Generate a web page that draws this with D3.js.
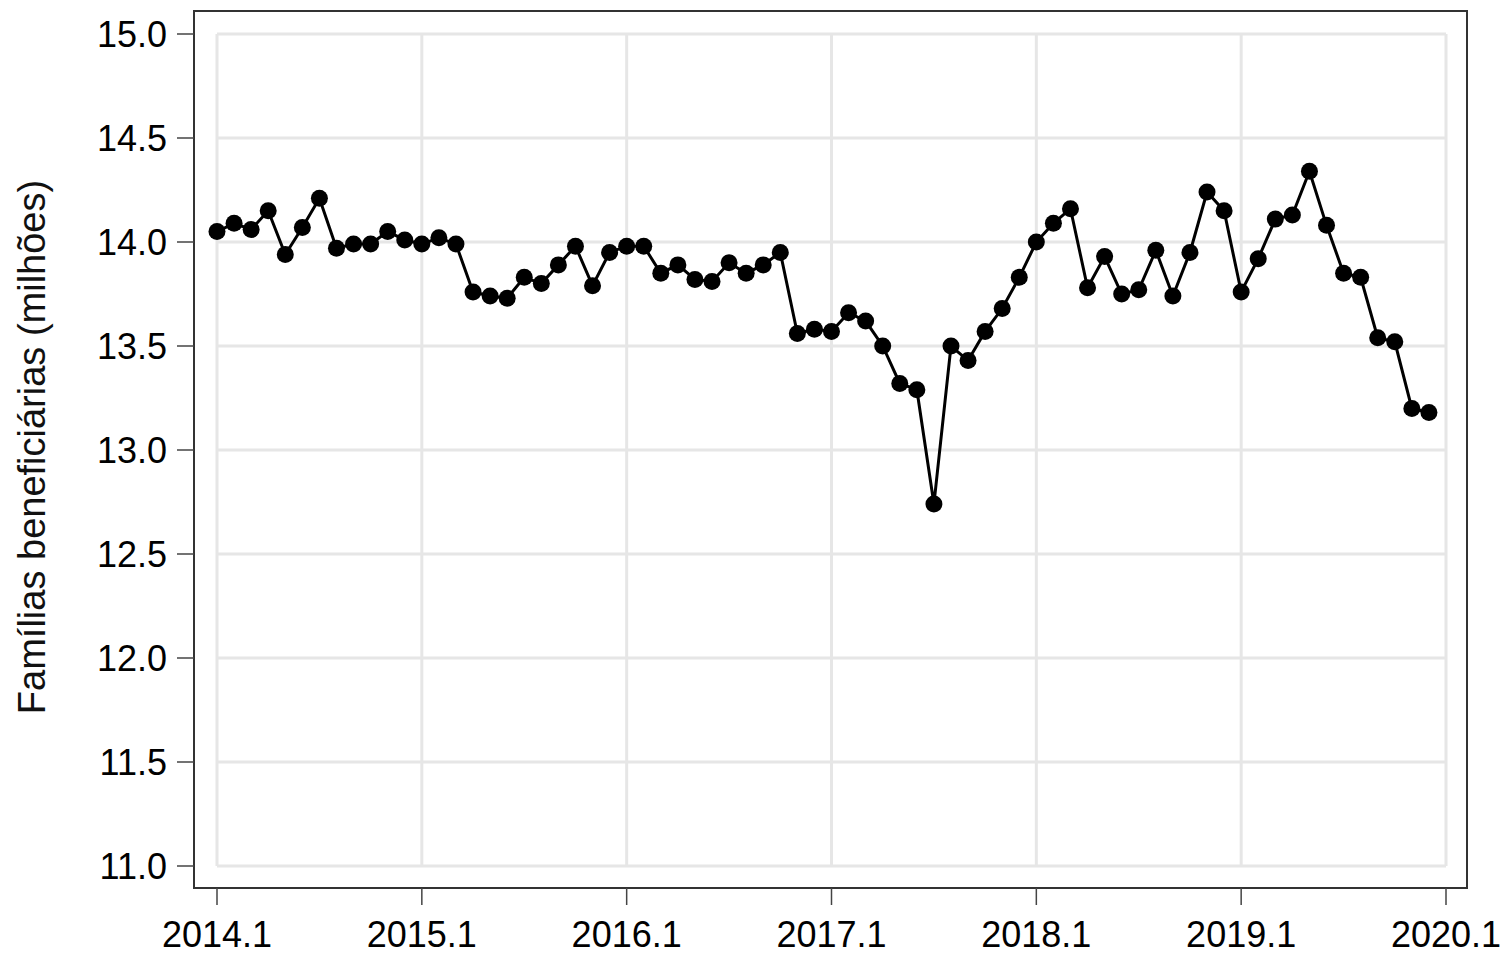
<!DOCTYPE html>
<html>
<head>
<meta charset="utf-8">
<script src="https://cdn.jsdelivr.net/npm/d3@7"></script>
<style>
  body { margin: 0; background: #fff; }
  text { font-family: "Liberation Sans", Arial, sans-serif; }
</style>
</head>
<body>
<div id="chart"></div>
<script>
// Monthly values, 2014.1 .. 2019.12 (millions of families)
var years = [2014, 2015, 2016, 2017, 2018, 2019];
var values2014 = [14.05, 14.09, 14.06, 14.15, 13.94, 14.07, 14.21, 13.97, 13.99, 13.99, 14.05, 14.01];
var values2015 = [13.99, 14.02, 13.99, 13.76, 13.74, 13.73, 13.83, 13.80, 13.89, 13.98, 13.79, 13.95];
var values2016 = [13.98, 13.98, 13.85, 13.89, 13.82, 13.81, 13.90, 13.85, 13.89, 13.95, 13.56, 13.58];
var values2017 = [13.57, 13.66, 13.62, 13.50, 13.32, 13.29, 12.74, 13.50, 13.43, 13.57, 13.68, 13.83];
var values2018 = [14.00, 14.09, 14.16, 13.78, 13.93, 13.75, 13.77, 13.96, 13.74, 13.95, 14.24, 14.15];
var values2019 = [13.76, 13.92, 14.11, 14.13, 14.34, 14.08, 13.85, 13.83, 13.54, 13.52, 13.20, 13.18];
var xTickLabels = ["2014.1", "2015.1", "2016.1", "2017.1", "2018.1", "2019.1", "2020.1"];
var yTicks = [11.0, 11.5, 12.0, 12.5, 13.0, 13.5, 14.0, 14.5, 15.0];
var yLabel = "Famílias beneficiárias (milhões)";

var allValues = [values2014, values2015, values2016, values2017, values2018, values2019];
var data = [];
allValues.forEach(function (arr, k) {
    arr.forEach(function (v, m) {
        data.push({ t: years[k] + m / 12, v: v });
    });
});

var W = 1504, H = 954;
var frame = { left: 194, top: 11, right: 1467, bottom: 888 };

var x = d3.scaleLinear().domain([2014, 2020]).range([217, 1446]);
var y = d3.scaleLinear().domain([11, 15]).range([866, 34]);

var svg = d3.select("#chart").append("svg")
    .attr("width", W)
    .attr("height", H);

// grid
svg.append("g").selectAll("line.h")
    .data(yTicks)
    .enter().append("line")
    .attr("x1", x(2014)).attr("x2", x(2020))
    .attr("y1", function (d) { return y(d); })
    .attr("y2", function (d) { return y(d); })
    .attr("stroke", "#e6e6e6").attr("stroke-width", 3);

svg.append("g").selectAll("line.v")
    .data(d3.range(2014, 2021))
    .enter().append("line")
    .attr("y1", y(11)).attr("y2", y(15))
    .attr("x1", function (d) { return x(d); })
    .attr("x2", function (d) { return x(d); })
    .attr("stroke", "#e6e6e6").attr("stroke-width", 3);

// plot frame
svg.append("rect")
    .attr("x", frame.left).attr("y", frame.top)
    .attr("width", frame.right - frame.left)
    .attr("height", frame.bottom - frame.top)
    .attr("fill", "none")
    .attr("stroke", "#333")
    .attr("stroke-width", 2);

// y axis ticks + labels
var yAxis = svg.append("g");
yAxis.selectAll("line")
    .data(yTicks)
    .enter().append("line")
    .attr("x1", frame.left - 17).attr("x2", frame.left)
    .attr("y1", function (d) { return y(d); })
    .attr("y2", function (d) { return y(d); })
    .attr("stroke", "#444").attr("stroke-width", 1.5);
yAxis.selectAll("text")
    .data(yTicks)
    .enter().append("text")
    .attr("x", 167)
    .attr("y", function (d) { return y(d); })
    .attr("dy", "0.36em")
    .attr("text-anchor", "end")
    .attr("font-size", 36)
    .text(function (d) { return d.toFixed(1); });

// x axis ticks + labels
var xAxis = svg.append("g");
xAxis.selectAll("line")
    .data(d3.range(2014, 2021))
    .enter().append("line")
    .attr("x1", function (d) { return x(d); })
    .attr("x2", function (d) { return x(d); })
    .attr("y1", frame.bottom).attr("y2", frame.bottom + 17)
    .attr("stroke", "#444").attr("stroke-width", 1.5);
xAxis.selectAll("text")
    .data(xTickLabels)
    .enter().append("text")
    .attr("x", function (d, i) { return x(2014 + i); })
    .attr("y", 947)
    .attr("text-anchor", "middle")
    .attr("font-size", 36)
    .text(function (d) { return d; });

// y title
svg.append("text")
    .attr("transform", "translate(45," + 447 + ") rotate(-90)")
    .attr("text-anchor", "middle")
    .attr("font-size", 38)
    .attr("fill", "#111")
    .text(yLabel);

// series
var line = d3.line()
    .x(function (d) { return x(d.t); })
    .y(function (d) { return y(d.v); });

svg.append("path")
    .datum(data)
    .attr("d", line)
    .attr("fill", "none")
    .attr("stroke", "#000")
    .attr("stroke-width", 3);

svg.append("g").selectAll("circle")
    .data(data)
    .enter().append("circle")
    .attr("cx", function (d) { return x(d.t); })
    .attr("cy", function (d) { return y(d.v); })
    .attr("r", 8.5)
    .attr("fill", "#000");
</script>
</body>
</html>
